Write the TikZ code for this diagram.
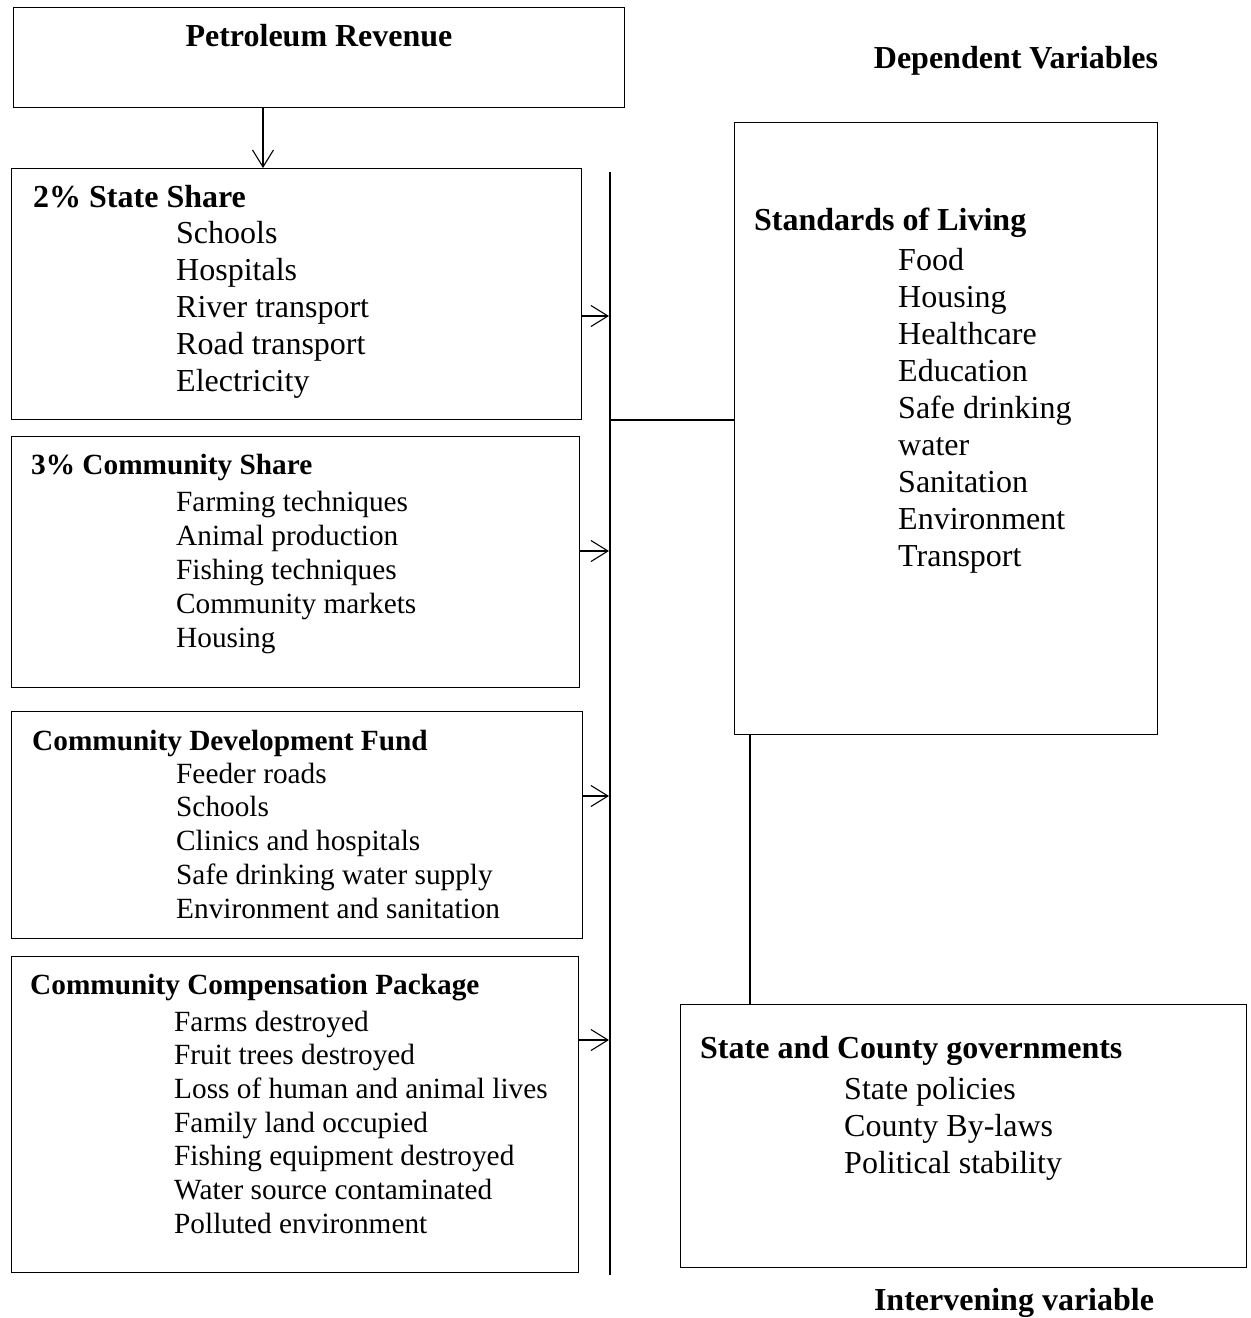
\documentclass[tikz,border=0pt]{standalone}
\usepackage{fontspec}
\setmainfont{Liberation Serif}
\usetikzlibrary{arrows.meta}
\begin{document}
\begin{tikzpicture}[x=1pt,y=-1pt,
  box/.style={draw, line width=1.3pt, anchor=north west, inner sep=0pt},
  txt/.style={font=\fontsize{29.3}{34}\selectfont, inner sep=0pt, anchor=base west},
  hd/.style={txt, font=\fontsize{29.3}{34}\selectfont\bfseries},
  big/.style={font=\fontsize{32}{37}\selectfont},
  bighd/.style={font=\fontsize{32}{37}\selectfont\bfseries},
  arr/.style={line width=1.1pt, -{Straight Barb[length=17pt,width=21pt,line width=1.1pt]}},
  conn/.style={line width=1.3pt}]
\useasboundingbox (0,0) rectangle (1251,1318);
% boxes
\node[box, minimum width=611pt, minimum height=100pt] (pr) at (13,7) {};
\node[box, minimum width=570pt, minimum height=251pt] (ss) at (11,168) {};
\node[box, minimum width=568pt, minimum height=251pt] (cs) at (11,436) {};
\node[box, minimum width=571pt, minimum height=227pt] (cdf) at (11,711) {};
\node[box, minimum width=567pt, minimum height=316pt] (ccp) at (11,956) {};
\node[box, minimum width=423pt, minimum height=612pt] (sl) at (734,122) {};
\node[box, minimum width=566pt, minimum height=263pt] (sg) at (680,1004) {};
% headings
\node[hd, bighd, anchor=base] (prt) at (319,46) {Petroleum Revenue};
\node[hd, bighd, anchor=base] (dv) at (1016,68) {Dependent Variables};
\node[hd, bighd, anchor=base] (iv) at (1014,1310) {Intervening variable};
\node[hd, bighd] (sst) at (33,207) {2\% State Share};
\node[hd] (cst) at (31,474) {3\% Community Share};
\node[hd] (cdft) at (32,750) {Community Development Fund};
\node[hd] (ccpt) at (30,994) {Community Compensation Package};
\node[hd, bighd] (slt) at (754,230) {Standards of Living};
\node[hd, bighd] (sgt) at (700,1058) {State and County governments};
% items
\foreach \t [count=\i from 0] in {Schools,Hospitals,River transport,Road transport,Electricity}
  \node[txt, big] (ssi\i) at (176,243+37*\i) {\t};
\foreach \t [count=\i from 0] in {Farming techniques,Animal production,Fishing techniques,Community markets,Housing}
  \node[txt] (csi\i) at (176,511+34*\i) {\t};
\foreach \t [count=\i from 0] in {Feeder roads,Schools,Clinics and hospitals,Safe drinking water supply,Environment and sanitation}
  \node[txt] (cdfi\i) at (176,783+33.75*\i) {\t};
\foreach \t [count=\i from 0] in {Farms destroyed,Fruit trees destroyed,Loss of human and animal lives,Family land occupied,Fishing equipment destroyed,Water source contaminated,Polluted environment}
  \node[txt] (ccpi\i) at (174,1031+33.7*\i) {\t};
\foreach \t [count=\i from 0] in {Food,Housing,Healthcare,Education,Safe drinking,water,Sanitation,Environment,Transport}
  \node[txt, big] (sli\i) at (898,270+37*\i) {\t};
\foreach \t [count=\i from 0] in {State policies,County By-laws,Political stability}
  \node[txt, big] (sgi\i) at (844,1099+37*\i) {\t};
% connectors
\coordinate (vtop) at (610,172);
\coordinate (vbot) at (610,1275);
\draw[line width=2.2pt] (vtop) -- (vbot);
\coordinate (pa) at (263,0);
\draw[arr] (pr.south -| pa) -- (ss.north -| pa);
\coordinate (a1) at (610,316);
\coordinate (a2) at (610,551);
\coordinate (a3) at (610,796);
\coordinate (a4) at (610,1040);
\draw[arr] (ss.east |- a1) -- ([xshift=-1pt]a1);
\draw[arr] (cs.east |- a2) -- ([xshift=-1pt]a2);
\draw[arr] (cdf.east |- a3) -- ([xshift=-1pt]a3);
\draw[arr] (ccp.east |- a4) -- ([xshift=-1pt]a4);
\coordinate (h1) at (610,420);
\draw[conn] (h1) -- (sl.west |- h1);
\coordinate (v2) at (750,0);
\draw[conn] (sl.south -| v2) -- (sg.north -| v2);
\end{tikzpicture}
\end{document}
